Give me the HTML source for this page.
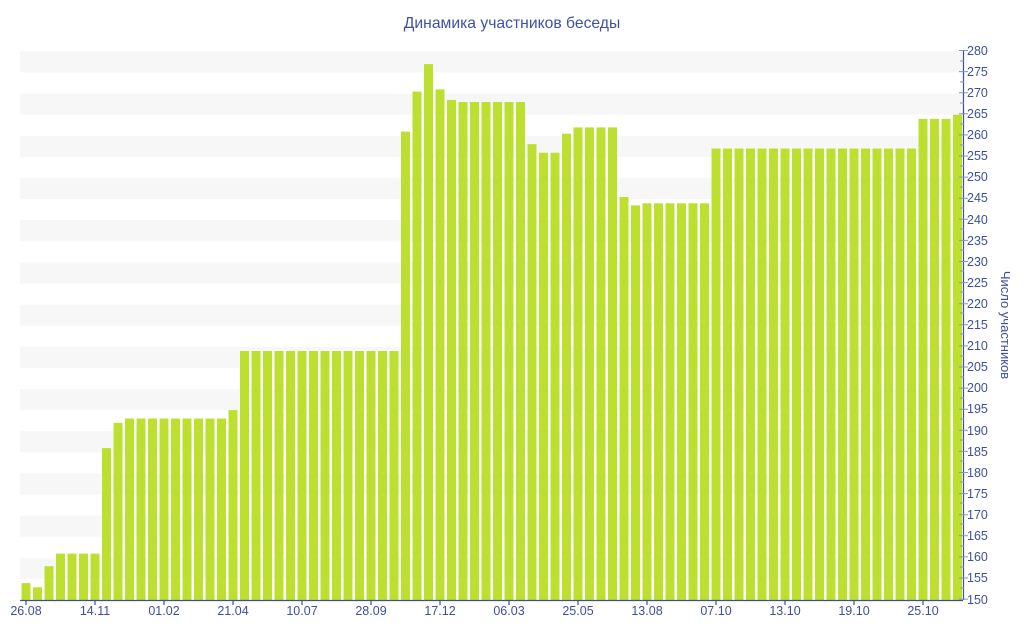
<!DOCTYPE html>
<html><head><meta charset="utf-8"><style>
html,body{margin:0;padding:0;background:#fff;}
svg{display:block;font-family:"Liberation Sans",sans-serif;}
</style></head><body>
<svg width="1024" height="640" viewBox="0 0 1024 640">
<text x="512" y="28" text-anchor="middle" font-size="15.7" fill="#3f51a3">Динамика участников беседы</text>
<g fill="#f7f7f7">
<rect x="20" y="557.8" width="943" height="21.1"/><rect x="20" y="515.6" width="943" height="21.1"/>
<rect x="20" y="473.4" width="943" height="21.1"/><rect x="20" y="431.2" width="943" height="21.1"/>
<rect x="20" y="389" width="943" height="21.1"/><rect x="20" y="346.8" width="943" height="21.1"/>
<rect x="20" y="304.6" width="943" height="21.1"/><rect x="20" y="262.4" width="943" height="21.1"/>
<rect x="20" y="220.2" width="943" height="21.1"/><rect x="20" y="178" width="943" height="21.1"/>
<rect x="20" y="135.8" width="943" height="21.1"/><rect x="20" y="93.6" width="943" height="21.1"/>
<rect x="20" y="51.4" width="943" height="21.1"/>
</g>
<g fill="#bde030">
<rect x="21.5" y="583.1" width="9" height="16.9"/>
<rect x="33" y="587.3" width="9" height="12.7"/>
<rect x="44.5" y="566.2" width="9" height="33.8"/>
<rect x="56" y="553.6" width="9" height="46.4"/>
<rect x="67.5" y="553.6" width="9" height="46.4"/>
<rect x="79" y="553.6" width="9" height="46.4"/>
<rect x="90.5" y="553.6" width="9" height="46.4"/>
<rect x="102" y="448.1" width="9" height="151.9"/>
<rect x="113.5" y="422.8" width="9" height="177.2"/>
<rect x="125" y="418.5" width="9" height="181.5"/>
<rect x="136.5" y="418.5" width="9" height="181.5"/>
<rect x="148" y="418.5" width="9" height="181.5"/>
<rect x="159.5" y="418.5" width="9" height="181.5"/>
<rect x="171" y="418.5" width="9" height="181.5"/>
<rect x="182.5" y="418.5" width="9" height="181.5"/>
<rect x="194" y="418.5" width="9" height="181.5"/>
<rect x="205.5" y="418.5" width="9" height="181.5"/>
<rect x="217" y="418.5" width="9" height="181.5"/>
<rect x="228.5" y="410.1" width="9" height="189.9"/>
<rect x="240" y="351" width="9" height="249"/>
<rect x="251.5" y="351" width="9" height="249"/>
<rect x="263" y="351" width="9" height="249"/>
<rect x="274.5" y="351" width="9" height="249"/>
<rect x="286" y="351" width="9" height="249"/>
<rect x="297.5" y="351" width="9" height="249"/>
<rect x="309" y="351" width="9" height="249"/>
<rect x="320.5" y="351" width="9" height="249"/>
<rect x="332" y="351" width="9" height="249"/>
<rect x="343.5" y="351" width="9" height="249"/>
<rect x="355" y="351" width="9" height="249"/>
<rect x="366.5" y="351" width="9" height="249"/>
<rect x="378" y="351" width="9" height="249"/>
<rect x="389.5" y="351" width="9" height="249"/>
<rect x="401" y="131.6" width="9" height="468.4"/>
<rect x="412.5" y="91.5" width="9" height="508.5"/>
<rect x="424" y="64.1" width="9" height="535.9"/>
<rect x="435.5" y="89.4" width="9" height="510.6"/>
<rect x="447" y="99.9" width="9" height="500.1"/>
<rect x="458.5" y="102" width="9" height="498"/>
<rect x="470" y="102" width="9" height="498"/>
<rect x="481.5" y="102" width="9" height="498"/>
<rect x="493" y="102" width="9" height="498"/>
<rect x="504.5" y="102" width="9" height="498"/>
<rect x="516" y="102" width="9" height="498"/>
<rect x="527.5" y="144.2" width="9" height="455.8"/>
<rect x="539" y="152.7" width="9" height="447.3"/>
<rect x="550.5" y="152.7" width="9" height="447.3"/>
<rect x="562" y="133.7" width="9" height="466.3"/>
<rect x="573.5" y="127.4" width="9" height="472.6"/>
<rect x="585" y="127.4" width="9" height="472.6"/>
<rect x="596.5" y="127.4" width="9" height="472.6"/>
<rect x="608" y="127.4" width="9" height="472.6"/>
<rect x="619.5" y="197" width="9" height="403"/>
<rect x="631" y="205.4" width="9" height="394.6"/>
<rect x="642.5" y="203.3" width="9" height="396.7"/>
<rect x="654" y="203.3" width="9" height="396.7"/>
<rect x="665.5" y="203.3" width="9" height="396.7"/>
<rect x="677" y="203.3" width="9" height="396.7"/>
<rect x="688.5" y="203.3" width="9" height="396.7"/>
<rect x="700" y="203.3" width="9" height="396.7"/>
<rect x="711.5" y="148.5" width="9" height="451.5"/>
<rect x="723" y="148.5" width="9" height="451.5"/>
<rect x="734.5" y="148.5" width="9" height="451.5"/>
<rect x="746" y="148.5" width="9" height="451.5"/>
<rect x="757.5" y="148.5" width="9" height="451.5"/>
<rect x="769" y="148.5" width="9" height="451.5"/>
<rect x="780.5" y="148.5" width="9" height="451.5"/>
<rect x="792" y="148.5" width="9" height="451.5"/>
<rect x="803.5" y="148.5" width="9" height="451.5"/>
<rect x="815" y="148.5" width="9" height="451.5"/>
<rect x="826.5" y="148.5" width="9" height="451.5"/>
<rect x="838" y="148.5" width="9" height="451.5"/>
<rect x="849.5" y="148.5" width="9" height="451.5"/>
<rect x="861" y="148.5" width="9" height="451.5"/>
<rect x="872.5" y="148.5" width="9" height="451.5"/>
<rect x="884" y="148.5" width="9" height="451.5"/>
<rect x="895.5" y="148.5" width="9" height="451.5"/>
<rect x="907" y="148.5" width="9" height="451.5"/>
<rect x="918.5" y="118.9" width="9" height="481.1"/>
<rect x="930" y="118.9" width="9" height="481.1"/>
<rect x="941.5" y="118.9" width="9" height="481.1"/>
<rect x="953" y="114.7" width="9" height="485.3"/>
</g>
<g stroke="#3d4f9c" stroke-width="1.2" fill="none">
<line x1="20" y1="600.5" x2="963" y2="600.5"/>
<line x1="963.5" y1="50" x2="963.5" y2="600"/>
<path d="M26 600v5M95 600v5M164 600v5M233 600v5M302 600v5M371 600v5M440 600v5M509 600v5M578 600v5M647 600v5M716 600v5M785 600v5M854 600v5M923 600v5"/>
</g>
<g stroke="#8892b8" stroke-width="1">
<path d="M959 50.5h9M959 71.6h9M959 92.7h9M959 113.8h9M959 134.9h9M959 156h9M959 177.1h9M959 198.2h9M959 219.3h9M959 240.4h9M959 261.5h9M959 282.6h9M959 303.7h9M959 324.8h9M959 345.9h9M959 367h9M959 388.1h9M959 409.2h9M959 430.3h9M959 451.4h9M959 472.5h9M959 493.6h9M959 514.7h9M959 535.8h9M959 556.9h9M959 578h9M959 599.1h9"/>
<path d="M960 61h4M960 82h4M960 103h4M960 124h4M960 145h4M960 166h4M960 187h4M960 208h4M960 229h4M960 250h4M960 271h4M960 292h4M960 313h4M960 334h4M960 356h4M960 377h4M960 398h4M960 419h4M960 440h4M960 461h4M960 482h4M960 503h4M960 524h4M960 546h4M960 567h4M960 588h4"/>
</g>
<g font-size="12.5" fill="#3d4f9c">
<text x="967" y="55">280</text><text x="967" y="76">275</text><text x="967" y="97">270</text><text x="967" y="118">265</text><text x="967" y="139">260</text><text x="967" y="160">255</text><text x="967" y="181">250</text><text x="967" y="202">245</text><text x="967" y="224">240</text><text x="967" y="245">235</text><text x="967" y="266">230</text><text x="967" y="287">225</text><text x="967" y="308">220</text><text x="967" y="329">215</text><text x="967" y="350">210</text><text x="967" y="371">205</text><text x="967" y="392">200</text><text x="967" y="413">195</text><text x="967" y="435">190</text><text x="967" y="456">185</text><text x="967" y="477">180</text><text x="967" y="498">175</text><text x="967" y="519">170</text><text x="967" y="540">165</text><text x="967" y="561">160</text><text x="967" y="582">155</text><text x="967" y="604">150</text>
</g>
<g font-size="12.5" fill="#3d4f9c" text-anchor="middle">
<text x="26" y="615">26.08</text><text x="95" y="615">14.11</text><text x="164" y="615">01.02</text><text x="233" y="615">21.04</text><text x="302" y="615">10.07</text><text x="371" y="615">28.09</text><text x="440" y="615">17.12</text><text x="509" y="615">06.03</text><text x="578" y="615">25.05</text><text x="647" y="615">13.08</text><text x="716" y="615">07.10</text><text x="785" y="615">13.10</text><text x="854" y="615">19.10</text><text x="923" y="615">25.10</text>
</g>
<text x="0" y="0" transform="translate(1001,325) rotate(90)" text-anchor="middle" font-size="13" fill="#3d4f9c">Число участников</text>
</svg>
</body></html>
